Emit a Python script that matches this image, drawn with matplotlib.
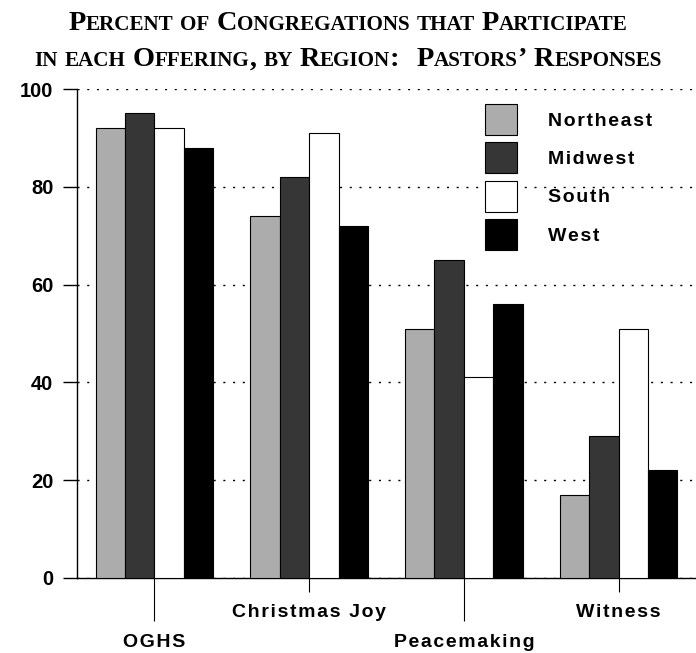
import matplotlib
matplotlib.use("Agg")
import matplotlib.pyplot as plt
import numpy as np
from matplotlib.offsetbox import TextArea, HPacker, VPacker, AnchoredOffsetbox

# data
offerings = ["OGHS", "Christmas Joy", "Peacemaking", "Witness"]
regions = ["Northeast", "Midwest", "South", "West"]
northeast = [92, 74, 51, 17]
midwest = [95, 82, 65, 29]
south = [92, 91, 41, 51]
west = [88, 72, 56, 22]
colors = ["#acacac", "#363636", "white", "black"]

title_lines = ["Percent of Congregations that Participate",
               "in each Offering, by Region:  Pastors\u2019 Responses"]

plt.rcParams['font.family'] = ['Liberation Sans', 'DejaVu Sans']


def spaced(s):
    # the original lettering is tracked out a little
    return '\u200a'.join(s)


fig = plt.figure(figsize=(6.96, 6.53), dpi=100)
ax = fig.add_axes([0.1106, 0.1149, 0.8894, 0.7488])

x = np.arange(len(offerings))
w = 0.19
for i, (vals, c, name) in enumerate(zip([northeast, midwest, south, west], colors, regions)):
    ax.bar(x + (i - 1.5) * w, vals, w, color=c, edgecolor='black', linewidth=0.8,
           label=spaced(name), zorder=3)

ax.set_xlim(-0.5, 3.5)
ax.set_ylim(0, 100)
ax.set_yticks(range(0, 101, 20))
ax.yaxis.grid(True, linestyle=(0, (1.5, 5.5)), color='black', linewidth=1.0)
ax.set_axisbelow(True)
for s in ['top', 'right']:
    ax.spines[s].set_visible(False)
ax.spines['left'].set_linewidth(1.0)
ax.spines['bottom'].set_linewidth(1.0)
ax.tick_params(axis='y', direction='out', length=10, width=1, pad=7, labelsize=14.5)
for lab in ax.get_yticklabels():
    lab.set_fontweight('bold')

# staggered category labels: long ticks for 0/2, short for 1/3
ax.set_xticks([0, 2])
ax.set_xticklabels([spaced(offerings[0]), spaced(offerings[2])], fontsize=14,
                   fontweight='bold')
ax.set_xticks([1, 3], minor=True)
ax.set_xticklabels([spaced(offerings[1]), spaced(offerings[3])], minor=True,
                   fontsize=14, fontweight='bold')
ax.tick_params(axis='x', which='major', length=31, width=0.8, pad=9)
ax.tick_params(axis='x', which='minor', length=10, width=0.8, pad=9)

leg = ax.legend(loc='upper left', bbox_to_anchor=(485 / 696, 1 - 104 / 653),
                bbox_transform=fig.transFigure, frameon=False, borderpad=0,
                borderaxespad=0, handlelength=1.65, handleheight=2.08,
                labelspacing=0.375, handletextpad=1.6,
                prop={'size': 14, 'weight': 'bold'})


# small-caps title built from pieces
def small_caps(line, big=20.3, small=15.2):
    words = []
    for word in line.split(' '):
        if word == '':
            words.append(TextArea(' ', textprops=dict(fontsize=small * 0.5)))
            continue
        parts = []
        run, run_big = '', None
        for ch in word:
            is_big = not ch.islower()
            if run and is_big != run_big:
                parts.append((run, run_big))
                run = ''
            run += ch.upper()
            run_big = is_big
        parts.append((run, run_big))
        kids = [TextArea(t, textprops=dict(fontsize=big if b else small, fontweight='bold',
                                          family='Liberation Serif'))
                for t, b in parts]
        words.append(HPacker(children=kids, pad=0, sep=0, align='baseline'))
    return HPacker(children=words, pad=0, sep=5, align='baseline')


title_box = VPacker(children=[small_caps(t) for t in title_lines], pad=0, sep=8,
                    align='center')
anchored = AnchoredOffsetbox(loc='upper center', child=title_box, pad=0, borderpad=0,
                             frameon=False, bbox_to_anchor=(0.5, 1 - 11 / 653),
                             bbox_transform=fig.transFigure)
fig.add_artist(anchored)

plt.savefig('out.png', dpi=100)
